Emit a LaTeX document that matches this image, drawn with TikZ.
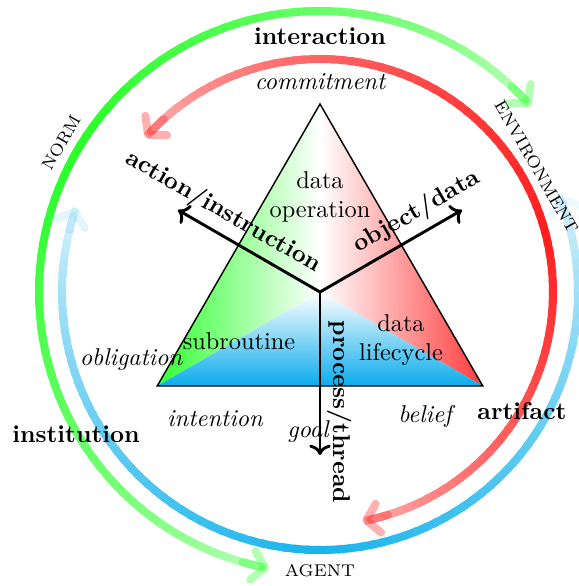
\documentclass[tikz,border=0pt]{standalone}
\usetikzlibrary{arrows.meta}
\definecolor{mygreen}{RGB}{40,255,40}
\definecolor{myred}{RGB}{255,30,30}
\definecolor{myblue}{RGB}{25,180,235}
\definecolor{triblue}{RGB}{10,172,236}
\definecolor{trigreen}{RGB}{50,255,50}
\definecolor{trired}{RGB}{255,60,60}
\newcommand\fadedarc[6]{%
  \foreach \k in {0,...,89}{%
    \pgfmathsetmacro\sA{\k/90}%
    \pgfmathsetmacro\sB{min((\k+1.4)/90,1)}%
    \pgfmathsetmacro\sM{(\k+0.5)/90}%
    \pgfmathsetmacro\sP{((#5)-(#3))/((#4)-(#3))}%
    \pgfmathsetmacro\fF{\sM<\sP ? \sM/\sP : (1-\sM)/(1-\sP)}%
    \pgfmathsetmacro\pP{#6+(100-#6)*pow(\fF,0.6)}%
    \pgfmathsetmacro\angA{(#3)+((#4)-(#3))*\sA}%
    \pgfmathsetmacro\angB{(#3)+((#4)-(#3))*\sB}%
    \draw[ringline,#1!\pP!white] (\angA:#2) arc[start angle=\angA,end angle=\angB,radius=#2];
  }%
}
\begin{document}
\begin{tikzpicture}[x=0.4115pt,y=0.4115pt,
  ringline/.style={line width=3.3pt},
  ringtip/.style={line width=3.3pt,line cap=round,-{Straight Barb[length=5pt,width=12pt,round]}},
  axisarrow/.style={very thick,->},
  axislabel/.style={font=\bfseries},
  outerbold/.style={font=\bfseries},
  outerit/.style={font=\itshape},
  ringname/.style={font=\scriptsize},
  innertext/.style={align=center}]
\useasboundingbox (-320,-294) rectangle (259,292);

% green ring (outer)
\fadedarc{mygreen}{281}{42}{259}{150}{25}
\draw[ringtip,draw=mygreen,draw opacity=0.35] (47:281) arc[start angle=47,end angle=41.5,radius=281];
\draw[ringtip,draw=mygreen,draw opacity=0.35] (254:281) arc[start angle=254,end angle=259.5,radius=281];

% blue ring
\fadedarc{myblue}{258}{161}{382}{270}{6}
\draw[ringtip,draw=myblue,draw opacity=0.12] (166:258) arc[start angle=166,end angle=161,radius=258];
\draw[ringtip,draw=myblue,draw opacity=0.08] (377:258) arc[start angle=377,end angle=382,radius=258];

% red ring
\fadedarc{myred}{233}{138}{-79}{15}{28}
\draw[ringtip,draw=myred,draw opacity=0.35] (132:233) arc[start angle=132,end angle=138.5,radius=233];
\draw[ringtip,draw=myred,draw opacity=0.35] (-73:233) arc[start angle=-73,end angle=-79.5,radius=233];

% triangle
\coordinate (O) at (0,0);
\coordinate (T) at (90:188);
\coordinate (L) at (210:188);
\coordinate (R) at (330:188);
\shade[left color=trigreen,right color=white] (T) -- (O) -- (L) -- cycle;
\shade[left color=white,right color=trired] (T) -- (O) -- (R) -- cycle;
\shade[top color=white,bottom color=triblue] (L) -- (O) -- (R) -- cycle;
\draw[semithick,line join=miter] (T) -- (L) -- (R) -- cycle;

% axes
\coordinate (A1) at (150:164);
\coordinate (A2) at (30:164);
\coordinate (A3) at (270:163);
\draw[axisarrow] (O) -- (A1);
\draw[axisarrow] (O) -- (A2);
\draw[axisarrow] (O) -- (A3);
\node[axislabel,rotate=-30] (lact) at (-97,80) {action/instruction};
\node[axislabel,rotate=30] (lobj) at (97,80) {object/data};
\node[axislabel,rotate=-90] (lproc) at (20,-120) {process/thread};

% inner texts
\node[innertext] (dop) at (0,95) {data\\operation};
\node[innertext] (sub) at (-81,-49) {subroutine};
\node[innertext] (dlc) at (81,-48) {data\\lifecycle};

% outer labels
\node[outerbold] (inter) at (0,256) {interaction};
\node[outerit] (comm) at (0,210) {commitment};
\node[ringname,rotate=60] (norm) at (150:299) {NORM};
\node[ringname,rotate=-60] (env) at (30:250) {ENVIRONMENT};
\node[ringname] (agent) at (0,-279) {AGENT};
\node[outerbold] (inst) at (-244,-142) {institution};
\node[outerbold] (arti) at (202,-119) {artifact};
\node[outerit] (obl) at (-189,-68) {obligation};
\node[outerit] (intn) at (-105,-127) {intention};
\node[outerit] (goal) at (-12,-140) {goal};
\node[outerit] (bel) at (105,-124) {belief};
\end{tikzpicture}
\end{document}
